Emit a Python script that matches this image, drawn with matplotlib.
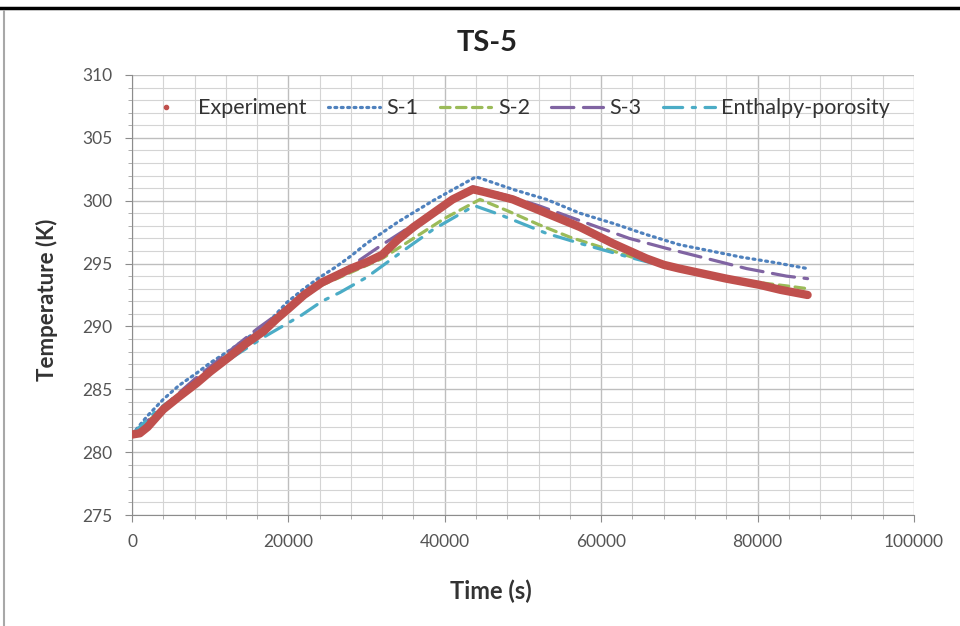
import numpy as np
import matplotlib
matplotlib.use("Agg")
import matplotlib.pyplot as plt
from matplotlib.lines import Line2D
from matplotlib.ticker import MultipleLocator

plt.rcParams['font.family'] = ['Lato', 'DejaVu Sans']

# measured temperature, TS-5 sensor
t_exp = [0, 1000, 2000, 4000, 6000, 8300, 10000, 12500, 14500, 16800, 18500,
         20000, 22000, 24300, 26000, 28000, 30000, 32000, 34000, 36000, 38500,
         41000, 43600, 45000, 48700, 53000, 57300, 61500, 65800, 68000, 70000,
         73000, 76000, 80300, 83000, 86400]
T_exp = [281.4, 281.5, 282.0, 283.4, 284.4, 285.5, 286.4, 287.6, 288.6, 289.6, 290.6,
         291.4, 292.5, 293.5, 294.0, 294.6, 295.1, 295.7, 296.9, 297.9, 299.0,
         300.1, 300.9, 300.7, 300.1, 299.0, 297.9, 296.6, 295.4, 294.9, 294.6,
         294.2, 293.8, 293.3, 292.9, 292.5]

# simulations
t_s1 = [0, 2000, 4000, 6000, 8300, 10000, 12500, 14500, 16800, 19800, 22000, 24000,
        26000, 28000, 30000, 34000, 38500, 44000, 48700, 53000, 57300, 61500, 65800,
        70000, 74000, 78000, 82000, 86400]
T_s1 = [281.4, 282.9, 284.2, 285.3, 286.3, 287.1, 288.1, 289.0, 289.9, 291.9, 293.0, 293.9,
        294.7, 295.6, 296.6, 298.3, 300.0, 301.9, 300.9, 300.1, 299.0, 298.2, 297.3,
        296.5, 296.0, 295.5, 295.1, 294.6]

t_s2 = [0, 4000, 8000, 12000, 16000, 20000, 24000, 28000, 32000, 36000, 40000, 44500,
        48000, 52000, 56000, 60000, 64000, 68000, 72000, 76000, 80000, 84000, 86400]
T_s2 = [281.4, 283.5, 285.5, 287.6, 289.5, 291.4, 293.2, 294.3, 295.4, 297.0, 298.6, 300.1,
        299.2, 298.1, 297.1, 296.3, 295.5, 294.9, 294.4, 293.9, 293.5, 293.2, 293.0]

t_s3 = [0, 4000, 8000, 12000, 16000, 20000, 24000, 28000, 32000, 36500, 40000, 43600,
        48000, 52000, 56000, 60000, 63600, 68400, 73500, 78600, 83700, 86400]
T_s3 = [281.4, 283.6, 285.8, 287.8, 289.8, 291.6, 293.5, 294.8, 296.5, 298.3, 299.8, 301.1,
        300.4, 299.6, 298.7, 297.8, 297.0, 296.2, 295.4, 294.6, 294.0, 293.8]

t_ep = [0, 3300, 6800, 10000, 13000, 17000, 21700, 24300, 26600, 30000, 34200, 38500,
        43800, 47000, 53000, 57300, 63600, 68000, 72000, 76000, 80000, 86400]
T_ep = [281.4, 283.4, 284.9, 286.3, 287.6, 289.2, 290.9, 292.0, 292.7, 293.9, 295.8, 297.7,
        299.6, 298.9, 297.4, 296.6, 295.5, 294.8, 294.3, 293.9, 293.4, 292.6]

labels = ['Experiment', 'S-1', 'S-2', 'S-3', 'Enthalpy-porosity']
colors = ['#C0504D', '#4F81BD', '#9BBB59', '#8064A2', '#4BACC6']
styles = [None, (0, (0.6, 1.4)), (0, (3, 2)), (0, (7, 3)), (0, (6, 3, 1, 3))]

fig = plt.figure(figsize=(9.6, 6.26), dpi=100)
ax = fig.add_axes([0.1375, 0.1773, 0.8145, 0.7030])

sims = [(t_s1, T_s1), (t_s2, T_s2), (t_s3, T_s3), (t_ep, T_ep)]
for (t, T), c, ls in zip(sims, colors[1:], styles[1:]):
    ax.plot(t, T, color=c, lw=2.3, linestyle=ls, dash_capstyle='round', zorder=3)
ax.plot(t_exp, T_exp, color=colors[0], lw=6, solid_capstyle='round',
        solid_joinstyle='round', zorder=4)

ax.set_xlim(0, 100000)
ax.set_ylim(275, 310)
ax.xaxis.set_major_locator(MultipleLocator(20000))
ax.xaxis.set_minor_locator(MultipleLocator(4000))
ax.yaxis.set_major_locator(MultipleLocator(5))
ax.yaxis.set_minor_locator(MultipleLocator(1))

ax.grid(which='major', color='#BEBEBE', lw=1.0)
ax.grid(which='minor', color='#D4D4D4', lw=0.8)
ax.set_axisbelow(True)
for side in ['top', 'right']:
    ax.spines[side].set_visible(False)
for side in ['left', 'bottom']:
    ax.spines[side].set_color('#8C8C8C')
ax.tick_params(which='major', direction='out', length=5, color='#8C8C8C',
               labelsize=12.5, labelcolor='#555555', pad=9)
ax.tick_params(which='minor', direction='out', length=3, color='#A0A0A0')

ax.set_ylabel('Temperature (K)', fontsize=16, fontweight='bold', color='#333333')
ax.yaxis.set_label_coords(-0.094, 0.49)
fig.text(0.511, 0.055, 'Time (s)', ha='center', va='center', fontsize=17,
         fontweight='bold', color='#333333')
fig.text(0.507, 0.932, 'TS-5', ha='center', va='center', fontsize=21,
         fontweight='bold', color='#222222')

handles = [Line2D([], [], color=colors[0], marker='o', markersize=3, linestyle='none')]
for c, ls in zip(colors[1:], styles[1:]):
    handles.append(Line2D([], [], color=c, lw=2.3, linestyle=ls, dash_capstyle='round'))
ax.legend(handles, labels, loc='center', bbox_to_anchor=(0.49, 0.924), ncol=5,
          frameon=False, fontsize=15.5, handlelength=2.4, handletextpad=0.3,
          columnspacing=1.0, labelcolor='#333333')

# outer frame of the chart
fig.add_artist(Line2D([0, 1], [0.987, 0.987], color='black', lw=2.5,
                      transform=fig.transFigure))
fig.add_artist(Line2D([0.004, 0.004], [0, 0.983], color='#A8A8A8', lw=1.5,
                      transform=fig.transFigure))

fig.savefig('out.png', dpi=100, facecolor='white')
